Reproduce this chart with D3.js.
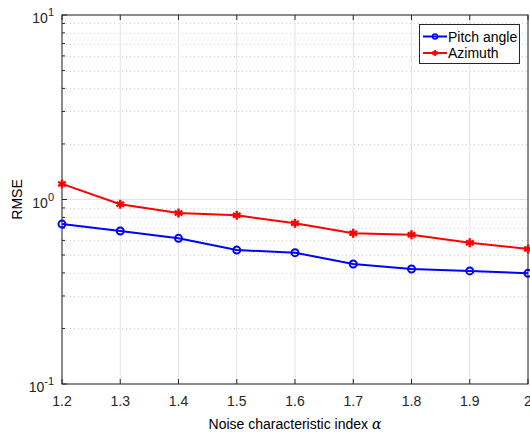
<!DOCTYPE html>
<html>
<head>
<meta charset="utf-8">
<script src="https://cdn.jsdelivr.net/npm/d3@7"></script>
<style>
  body { margin: 0; background: #fff; }
  svg { display: block; font-family: "Liberation Sans", Arial, sans-serif; }
</style>
</head>
<body>
<div id="chart"></div>
<script>
var alphas = [1.2, 1.3, 1.4, 1.5, 1.6, 1.7, 1.8, 1.9, 2.0]
var pitch = [0.736, 0.675, 0.616, 0.532, 0.515, 0.447, 0.42, 0.41, 0.398]
var azimuth = [1.215, 0.942, 0.845, 0.821, 0.743, 0.656, 0.644, 0.583, 0.539]
var xTicks = [1.2, 1.3, 1.4, 1.5, 1.6, 1.7, 1.8, 1.9, 2]
var yDecades = [0.1, 1, 10]

var width = 530, height = 432
// plot box (note: "top" is taken by window.top, so use other names)
var pL = 62, pR = 528, pT = 15, pB = 384

var svg = d3.select("#chart").append("svg")
    .attr("width", width)
    .attr("height", height)

var x = d3.scaleLinear().domain([1.2, 2]).range([pL, pR])
var y = d3.scaleLog().domain([0.1, 10]).range([pB, pT])

// minor log values
var minors = []
for (var d = 0.1; d < 10; d *= 10) {
  for (var k = 2; k <= 9; k++) minors.push(+(d * k).toPrecision(3))
}

var grid = svg.append("g")
grid.selectAll("line.minor").data(minors).enter().append("line")
    .attr("x1", pL).attr("x2", pR)
    .attr("y1", function(d) { return Math.round(y(d)) + 0.5 }).attr("y2", function(d) { return Math.round(y(d)) + 0.5 })
    .attr("stroke", "#d0d0d0").attr("stroke-width", 1)
    .attr("stroke-dasharray", "1,3")
grid.selectAll("line.ymaj").data(yDecades).enter().append("line")
    .attr("x1", pL).attr("x2", pR)
    .attr("y1", function(d) { return y(d) }).attr("y2", function(d) { return y(d) })
    .attr("stroke", "#e3e3e3").attr("stroke-width", 1)
grid.selectAll("line.xmaj").data(xTicks).enter().append("line")
    .attr("x1", function(d) { return x(d) }).attr("x2", function(d) { return x(d) })
    .attr("y1", pT).attr("y2", pB)
    .attr("stroke", "#e3e3e3").attr("stroke-width", 1)

// axes box
svg.append("rect")
    .attr("x", pL).attr("y", pT)
    .attr("width", pR - pL).attr("height", pB - pT)
    .attr("fill", "none").attr("stroke", "#262626").attr("stroke-width", 1)

// ticks (inward)
var ticks = svg.append("g").attr("stroke", "#262626").attr("stroke-width", 1)
xTicks.forEach(function(t) {
  ticks.append("line").attr("x1", x(t)).attr("x2", x(t)).attr("y1", pB).attr("y2", pB - 5)
  ticks.append("line").attr("x1", x(t)).attr("x2", x(t)).attr("y1", pT).attr("y2", pT + 5)
})
yDecades.forEach(function(t) {
  ticks.append("line").attr("x1", pL).attr("x2", pL + 5).attr("y1", y(t)).attr("y2", y(t))
})
minors.forEach(function(t) {
  ticks.append("line").attr("x1", pL).attr("x2", pL + 3).attr("y1", y(t)).attr("y2", y(t))
})

// tick labels
svg.append("g").selectAll("text").data(xTicks).enter().append("text")
    .attr("x", function(d) { return x(d) })
    .attr("y", pB + 22)
    .attr("text-anchor", "middle")
    .attr("font-size", 14).attr("fill", "#262626")
    .text(function(d) { return d === 2 ? "2" : d.toFixed(1) })

var yl = svg.append("g").selectAll("text").data(yDecades).enter().append("text")
    .attr("x", pL - 8)
    .attr("y", function(d) { return y(d) + 8 })
    .attr("text-anchor", "end")
    .attr("font-size", 14).attr("fill", "#262626")
yl.append("tspan").text("10")
yl.append("tspan").attr("dy", -7).attr("font-size", 11)
    .text(function(d) { return Math.round(Math.log10(d)) })

// axis titles
svg.append("text")
    .attr("x", (pL + pR) / 2).attr("y", 429)
    .attr("text-anchor", "middle").attr("font-size", 14).attr("fill", "#000")
    .text("Noise characteristic index  ")
  .append("tspan").attr("font-family", "'DejaVu Serif', serif").attr("font-style", "italic")
    .text("α")
svg.append("text")
    .attr("transform", "translate(22," + ((pT + pB) / 2) + ") rotate(-90)")
    .attr("text-anchor", "middle").attr("font-size", 14).attr("fill", "#000")
    .text("RMSE")

// series
var line = d3.line()
    .x(function(d, i) { return x(alphas[i]) })
    .y(function(d) { return y(d) })

svg.append("path").datum(pitch).attr("d", line)
    .attr("fill", "none").attr("stroke", "#0000ff").attr("stroke-width", 2)
svg.selectAll("circle.pitch").data(pitch).enter().append("circle")
    .attr("cx", function(d, i) { return x(alphas[i]) })
    .attr("cy", function(d) { return y(d) })
    .attr("r", 3.5).attr("fill", "none").attr("stroke", "#0000ff").attr("stroke-width", 2)

svg.append("path").datum(azimuth).attr("d", line)
    .attr("fill", "none").attr("stroke", "#ff0000").attr("stroke-width", 2)
var star = d3.symbol().type(d3.symbolAsterisk).size(55)
svg.selectAll("path.az").data(azimuth).enter().append("path")
    .attr("d", star)
    .attr("transform", function(d, i) { return "translate(" + x(alphas[i]) + "," + y(d) + ")" })
    .attr("fill", "none").attr("stroke", "#ff0000").attr("stroke-width", 2.4)

// legend
var lg = svg.append("g")
lg.append("rect").attr("x", 419.5).attr("y", 24.5).attr("width", 100).attr("height", 39)
    .attr("fill", "#fff").attr("stroke", "#262626").attr("stroke-width", 1)
var entries = [
  { name: "Pitch angle", color: "#0000ff", type: "circle", yy: 36.5 },
  { name: "Azimuth", color: "#ff0000", type: "star", yy: 53 }
]
entries.forEach(function(e) {
  lg.append("line").attr("x1", 423).attr("x2", 447).attr("y1", e.yy).attr("y2", e.yy)
      .attr("stroke", e.color).attr("stroke-width", 2)
  if (e.type === "circle") {
    lg.append("circle").attr("cx", 435).attr("cy", e.yy).attr("r", 2.5)
        .attr("fill", "none").attr("stroke", e.color).attr("stroke-width", 1.5)
  } else {
    lg.append("path").attr("d", d3.symbol().type(d3.symbolAsterisk).size(25))
        .attr("transform", "translate(435," + e.yy + ")")
        .attr("fill", "none").attr("stroke", e.color).attr("stroke-width", 1.8)
  }
  lg.append("text").attr("x", 448).attr("y", e.yy + 5)
      .attr("font-size", 14).attr("fill", "#000").text(e.name)
})
</script>
</body>
</html>
